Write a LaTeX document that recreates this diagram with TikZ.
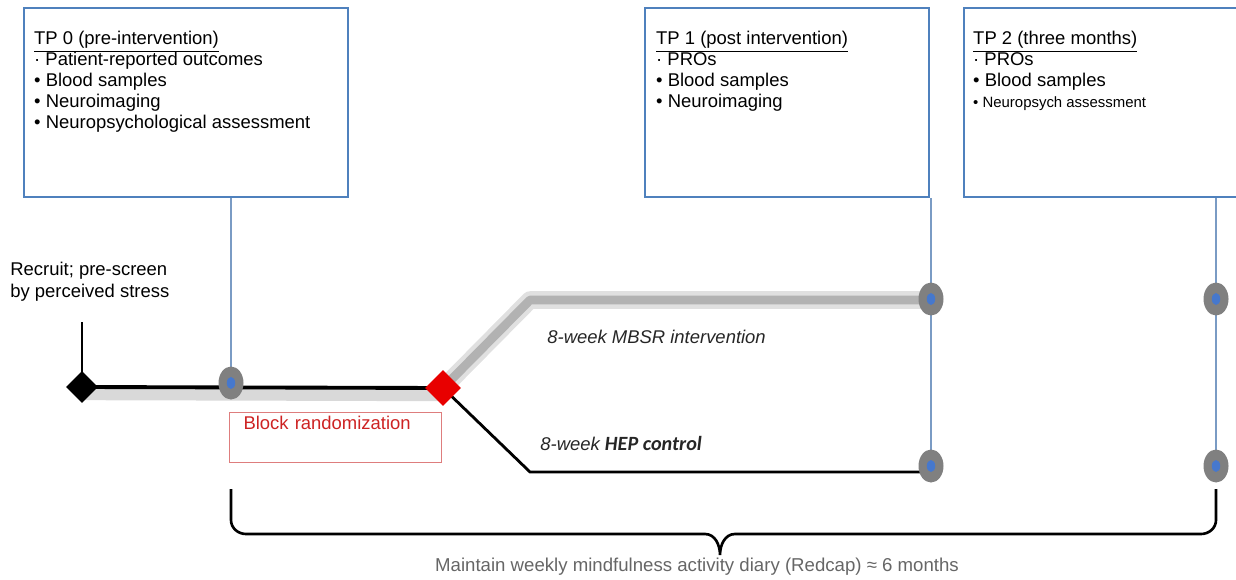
\documentclass[tikz,border=0pt]{standalone}
\usepackage{fontspec}
\setmainfont{Liberation Sans}
\newfontfamily\carlito{Carlito}
\usetikzlibrary{positioning, calc, shapes.geometric, backgrounds}
\definecolor{boxblue}{RGB}{79,129,189}
\definecolor{stemblue}{RGB}{122,155,196}
\definecolor{dotgray}{RGB}{128,128,128}
\definecolor{dotblue}{RGB}{70,120,205}
\definecolor{randred}{RGB}{232,0,0}
\definecolor{boxred}{RGB}{222,125,125}
\definecolor{textred}{RGB}{205,35,35}

\begin{document}
\begin{tikzpicture}[
  tpbox/.style  = {draw=boxblue, line width=1.3pt, inner sep=0pt,
                   minimum height=3.78cm},
  tptext/.style = {align=left, inner sep=0pt,
                   font=\fontsize{10.5}{12}\selectfont},
  visit/.style  = {ellipse, fill=dotgray, inner sep=0pt,
                   minimum width=0.5cm, minimum height=0.66cm,
                   path picture={\fill[dotblue] (path picture bounding box.center)
                                 ellipse (2.4pt and 3.4pt);}},
  gate/.style   = {diamond, inner sep=0pt, minimum size=0.64cm},
  stem/.style   = {draw=stemblue, line width=1pt},
  arm/.style    = {anchor=west, inner sep=0pt, text=black!85,
                   font=\fontsize{10.5}{12}\selectfont\itshape},
  node distance = 4mm and 2mm
]
\useasboundingbox (0,0) rectangle (24.72,-11.58);

\node[tpbox, minimum width=6.48cm] (tp0) at (3.72,-2.05) {};
\node[tpbox, minimum width=5.68cm] (tp1) at (15.74,-2.05) {};
\node[tpbox, minimum width=5.72cm] (tp2) at (22.14,-2.05) {};

\node[tptext, below right=0.48cm and 0.22cm of tp0.north west] (tp0txt)
  {\underline{TP 0 (pre-intervention)}\\
   · Patient-reported outcomes\\
   • Blood samples\\
   • Neuroimaging\\
   • Neuropsychological assessment};
\node[tptext, below right=0.48cm and 0.24cm of tp1.north west] (tp1txt)
  {\underline{TP 1 (post intervention)}\\
   · PROs\\
   • Blood samples\\
   • Neuroimaging};
\node[tptext, below right=0.48cm and 0.2cm of tp2.north west] (tp2txt)
  {\underline{TP 2 (three months)}\\
   · PROs\\
   • Blood samples\\
   {\fontsize{8.5}{11}\selectfont • Neuropsych assessment}};

\node[tptext, anchor=north west, font=\fontsize{10.5}{12.5}\selectfont] (recruit)
  at (0.2,-5.24) {Recruit; pre-screen\\by perceived stress};

\node[gate, fill=black] (d0) at (1.64,-7.74) {};
\node[gate, fill=randred, minimum size=0.72cm] (rd) at (8.86,-7.76) {};
\coordinate (rtop) at (1.64,-6.44);
\coordinate (mbend) at (10.6,-6.0);
\coordinate (hbend) at (10.6,-9.44);

\node[visit] (c0)  at (4.62,-7.66) {};
\node[visit] (c1a) at (18.62,-5.98) {};
\node[visit] (c1b) at (18.62,-9.32) {};
\node[visit] (c2a) at (24.32,-5.98) {};
\node[visit] (c2b) at (24.32,-9.32) {};

\node[arm] (mbsr) at (10.94,-6.74) {8-week MBSR intervention};
\node[arm] (hep)  at (10.8,-8.86)
  {8-week {\carlito\bfseries\itshape\fontsize{11.5}{12}\selectfont HEP control}};

\node[draw=boxred, line width=0.6pt, anchor=north west, align=left,
      text width=3.68cm, inner xsep=0.28cm, inner ysep=2pt,
      text height=7.6pt, text depth=16.8pt, text=textred,
      font=\fontsize{10.5}{12}\selectfont] (block)
  at (4.58,-8.24) {Block randomization};

\coordinate (bl) at (4.62,-9.78);
\coordinate (br) at (24.32,-9.78);
\coordinate (btip) at (14.4,-11.1);
\node[inner sep=0pt, text=black!60, font=\fontsize{10.6}{12}\selectfont] (diary)
  at (13.94,-11.34) {Maintain weekly mindfulness activity diary (Redcap) ≈ 6 months};

\begin{scope}[on background layer]
  \draw[stem] (c0.center) -- (c0 |- tp0.south);
  \draw[stem] (c1b.center) -- (c1b |- tp1.south);
  \draw[stem] (c2b.center) -- (c2b |- tp2.south);
  \draw[line width=1pt] (d0.center) -- (rtop);
  \draw[line width=7pt, black!15] ([yshift=-4pt]d0.center) -- ([yshift=-4pt]rd.center);
  \draw[line width=2.2pt] (d0.center) -- (rd.center);
  \draw[line width=10pt, black!12, line join=round] (rd.center) -- (mbend) -- (mbend -| c1a);
  \draw[line width=5pt, black!30, line join=round] (rd.center) -- (mbend) -- (mbend -| c1a);
  \draw[line width=1.6pt] (rd.center) -- (hbend) -- (hbend -| c1b);
\end{scope}

\draw[line width=1.5pt]
  (bl) -- ++(0,-0.62) to[out=-90,in=180] ++(0.3,-0.28)
  -- ($(btip)+(-0.3,0.42)$) to[out=0,in=90] (btip)
  to[out=90,in=180] ($(btip)+(0.3,0.42)$)
  -- ($(br)+(-0.3,-0.9)$) to[out=0,in=-90] ++(0.3,0.28) -- (br);
\end{tikzpicture}
\end{document}
